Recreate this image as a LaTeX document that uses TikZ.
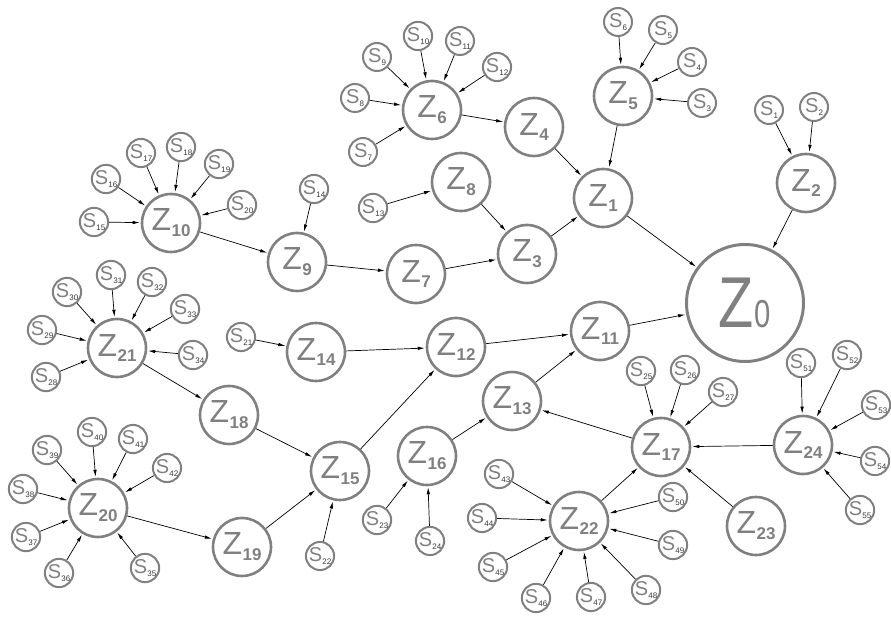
\documentclass[tikz,border=0pt]{standalone}
\usepackage{fontspec}
\setmainfont{Liberation Sans}
\usetikzlibrary{arrows.meta}
\definecolor{ringgray}{HTML}{808080}
\definecolor{subink}{HTML}{3A3A3A}
% Z label with a bold subscript, S label with a small dark subscript
\newcommand\zsub[1]{Z\kern0.5pt\raisebox{-0.35ex}{\fontsize{17}{17}\selectfont\bfseries #1}}
\newcommand\ssub[1]{S\kern0.2pt\raisebox{-0.3ex}{\fontsize{8}{8}\selectfont\color{subink}#1}}
\begin{document}
\begin{tikzpicture}[x=1pt,y=-1pt,
  zn/.style={circle,draw=ringgray,line width=2.6pt,minimum size=58pt,inner sep=0pt,
             text=ringgray,font=\fontsize{32}{32}\selectfont},
  sn/.style={circle,draw=ringgray,line width=2pt,minimum size=28pt,inner sep=0pt,
             text=ringgray,font=\fontsize{20}{20}\selectfont},
  rootnode/.style={circle,draw=ringgray,line width=3pt,minimum size=117pt,inner sep=0pt,
             text=ringgray},
  link/.style={draw=black,line width=0.7pt,-{Latex[length=7pt,width=3.5pt]},shorten >=1pt}
]
\useasboundingbox (0,0) rectangle (891,617);

% root
\node[rootnode] (z0) at (745,303)
  {\fontsize{72}{72}\selectfont\scalebox{0.8}[1]{Z}\kern1pt{\fontsize{39}{39}\selectfont\scalebox{0.75}[1]{0}}};

% Z nodes
\foreach \n/\x/\y in {1/603/198, 2/806/183, 3/527/254, 4/534/127, 5/623/96, 6/432/110,
  7/416/274, 8/461/182, 9/297/262, 10/171/223, 11/600/331, 12/456/347, 13/512/401,
  14/316/352, 15/340/471, 16/427/456, 17/661/447, 18/229/415, 19/242/547, 20/98/508,
  21/117/348, 22/579/521, 23/756/526, 24/803/445}
  \node[zn] (z\n) at (\x,\y) {\zsub{\n}};

% S nodes
\foreach \n/\x/\y in {1/769/110, 2/814/107, 3/702/103, 4/692/62, 5/663/30, 6/618/22,
  7/363/152, 8/355/98, 9/377/57, 10/418/36, 11/460/41, 12/497/67,
  13/373/208, 14/314/189,
  15/94/222, 16/106/179, 17/141/153, 18/181/147, 19/219/164, 20/242/205,
  21/241/337, 22/320/556, 23/377/520, 24/430/541,
  25/641/371, 26/685/370, 27/723/392,
  28/46/377, 29/42/330, 30/67/292, 31/111/275, 32/152/282, 33/185/309, 34/193/355,
  35/145/568, 36/59/573, 37/26/537, 38/23/489, 39/47/450, 40/92/432, 41/133/439, 42/167/468,
  43/499/474, 44/482/518, 45/493/567, 46/536/598, 47/591/597, 48/646/590, 49/673/545, 50/673/497,
  51/801/363, 52/847/355, 53/876/405, 54/875/461, 55/860/510}
  \node[sn] (s\n) at (\x,\y) {\ssub{\n}};

% S to Z feeds
\foreach \a/\b in {s1/z2, s2/z2, s3/z5, s4/z5, s5/z5, s6/z5,
  s7/z6, s8/z6, s9/z6, s10/z6, s11/z6, s12/z6, s13/z8, s14/z9,
  s15/z10, s16/z10, s17/z10, s18/z10, s19/z10, s20/z10,
  s21/z14, s22/z15, s23/z16, s24/z16, s25/z17, s26/z17, s27/z17,
  s28/z21, s29/z21, s30/z21, s31/z21, s32/z21, s33/z21, s34/z21,
  s35/z20, s36/z20, s37/z20, s38/z20, s39/z20, s40/z20, s41/z20, s42/z20,
  s43/z22, s44/z22, s45/z22, s46/z22, s47/z22, s48/z22, s49/z22, s50/z22,
  s51/z24, s52/z24, s53/z24, s54/z24, s55/z24}
  \draw[link] (\a) -- (\b);

% Z to Z links
\foreach \a/\b in {z2/z0, z1/z0, z11/z0, z5/z1, z4/z1, z6/z4, z3/z1, z8/z3, z7/z3,
  z9/z7, z10/z9, z21/z18, z18/z15, z19/z15, z20/z19, z15/z12, z14/z12, z12/z11,
  z13/z11, z16/z13, z17/z13, z22/z17, z23/z17, z24/z17}
  \draw[link] (\a) -- (\b);
\end{tikzpicture}
\end{document}
